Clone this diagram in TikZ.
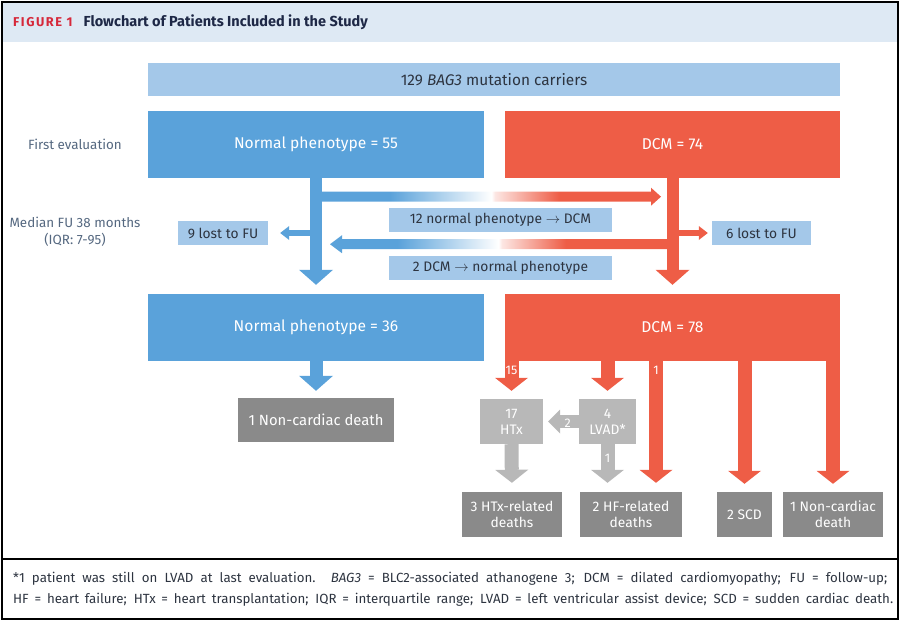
\documentclass[tikz,border=0pt]{standalone}
\usepackage{fontspec}
\setmainfont{Fira Sans}
\usepackage{tikz}
\usetikzlibrary{arrows.meta,positioning,calc}
\usepackage{xcolor}
\definecolor{jblue}{RGB}{90,162,218}
\definecolor{jlight}{RGB}{164,200,233}
\definecolor{jred}{RGB}{238,93,70}
\definecolor{jdark}{RGB}{138,138,138}
\definecolor{jgray}{RGB}{184,184,184}
\definecolor{jhead}{RGB}{222,233,244}
\definecolor{jnavy}{RGB}{30,40,70}
\definecolor{jtitle}{RGB}{214,40,58}
\definecolor{jside}{RGB}{85,104,128}
\definecolor{jtext}{RGB}{45,52,64}
\colorlet{jredpale}{jred!15}
\pgfdeclarehorizontalshading{convert}{100bp}{color(0bp)=(jblue); color(35bp)=(jblue); color(50bp)=(white); color(50.5bp)=(jredpale); color(60bp)=(jred); color(100bp)=(jred)}

\begin{document}
\begin{tikzpicture}[x=1pt,y=-1pt,
    box/.style={inner sep=0pt, align=center, font=\fontsize{13.8}{16}\selectfont},
    mainbox/.style={box, fill=#1, text=white, minimum height=67pt, font=\fontsize{15.6}{18}\selectfont},
    lightbox/.style={box, fill=jlight, text=jtext, minimum height=24pt},
    graybox/.style={box, fill=jgray, text=white, minimum height=45pt},
    darkbox/.style={box, fill=jdark, text=white, minimum height=45pt},
    sidelabel/.style={align=center, text=jside, font=\fontsize{13.4}{17}\selectfont},
    stemlabel/.style={text=white, inner sep=0pt, font=\fontsize{12.5}{14}\selectfont},
    bigarrow/.style={draw=#1, line width=12pt, -{Triangle[width=34pt,length=15pt,line width=0pt]}},
    droparrow/.style={draw=#1, line width=14pt, -{Triangle[width=33pt,length=13pt,line width=0pt]}},
    smallarrow/.style={draw=#1, line width=6pt, -{Triangle[width=14pt,length=9pt,line width=0pt]}}
  ]
\useasboundingbox (0,0) rectangle (900,622);

% frame and header
\fill[jhead] (3,3) rectangle (897,42);
\draw[line width=1.5pt] (2,2) rectangle (898,619);
\draw[line width=1.5pt] (2,559) -- (898,559);
\node[anchor=west, inner sep=0pt] (title) at (13,22)
  {{\color{jtitle}\fontsize{12.8}{15}\selectfont\bfseries\addfontfeature{LetterSpace=12}FIGURE 1}\hspace{11pt}{\color{jnavy}\fontsize{14.5}{17}\selectfont\bfseries Flowchart of Patients Included in the Study}};

% boxes
\node[box, fill=jlight, text=jtext, minimum width=692pt, minimum height=33pt, font=\fontsize{15.4}{18}\selectfont] (carriers) at (494,79.5) {129 \textit{BAG3} mutation carriers};
\node[mainbox=jblue, minimum width=336pt] (norm55) at (316,144.5) {Normal phenotype = 55};
\node[mainbox=jred, minimum width=335pt] (dcm74) at (672.5,144.5) {DCM = 74};
\node[mainbox=jblue, minimum width=336pt] (norm36) at (316,327.5) {Normal phenotype = 36};
\node[mainbox=jred, minimum width=335pt] (dcm78) at (672.5,327.5) {DCM = 78};

\node[sidelabel] (firsteval) at (75,144) {First evaluation};
\node[sidelabel] (medianfu) at (75,232) {Median FU 38 months\\(IQR: 7-95)};

\node[lightbox, minimum width=90pt] (lost9) at (223,233) {9 lost to FU};
\node[lightbox, minimum width=99pt] (lost6) at (761.5,233) {6 lost to FU};
\node[lightbox, minimum width=223pt] (toDCM) at (500.5,220) {12 normal phenotype $\rightarrow$ DCM};
\node[lightbox, minimum width=223pt] (toNormal) at (500.5,267.5) {2 DCM $\rightarrow$ normal phenotype};

\node[graybox, minimum width=63pt] (htx) at (511.5,421.5) {17\\HTx};
\node[graybox, minimum width=57pt] (lvad) at (607.5,421.5) {4\\LVAD*};
\node[darkbox, minimum width=156pt, minimum height=44pt, font=\fontsize{14.8}{17}\selectfont] (ncdA) at (316,420) {1 Non-cardiac death};
\node[darkbox, minimum width=100pt] (htxdeath) at (512,514.5) {3 HTx-related\\deaths};
\node[darkbox, minimum width=102pt] (hfdeath) at (631,514.5) {2 HF-related\\deaths};
\node[darkbox, minimum width=55pt] (scd) at (744.5,514.5) {2 SCD};
\node[darkbox, minimum width=100pt] (ncdB) at (833,514.5) {1 Non-cardiac\\death};

% follow-up arrows
\draw[smallarrow=jblue, shorten >=12pt] (norm55.south |- lost9.east) -- (lost9.east);
\draw[smallarrow=jred, shorten >=4pt] (dcm74.south |- lost6.west) -- (lost6.west);
\draw[bigarrow=jblue, shorten >=9pt] (norm55.south) -- (norm36.north);
\draw[bigarrow=jred, shorten >=9pt] (dcm74.south) -- (dcm78.north);

\coordinate (convA) at ($(norm55.south)+(6,18.5)$);
\coordinate (convB) at ($(dcm74.south)+(-11.5,18.5)$);
\shade[shading=convert] ($(convA)+(0,-5)$) -- ($(convB)+(-10,-5)$) -- ($(convB)+(-10,-9)$) -- (convB)
  -- ($(convB)+(-10,9)$) -- ($(convB)+(-10,5)$) -- ($(convA)+(0,5)$) -- cycle;
\coordinate (backA) at ($(dcm74.south)+(-5.5,66)$);
\coordinate (backB) at ($(norm55.south)+(14,66)$);
\shade[shading=convert] ($(backA)+(0,-5)$) -- ($(backB)+(12,-5)$) -- ($(backB)+(12,-9)$) -- (backB)
  -- ($(backB)+(12,9)$) -- ($(backB)+(12,5)$) -- ($(backA)+(0,5)$) -- cycle;

% outcomes
\draw[bigarrow=jblue, line width=13pt, shorten >=7pt] (norm36.south) -- (ncdA.north);
\draw[droparrow=jred, shorten >=8pt] (htx.north |- dcm78.south) -- (htx.north);
\draw[droparrow=jred, shorten >=8pt] (lvad.north |- dcm78.south) -- (lvad.north);
\coordinate (hfin) at ($(hfdeath.north)+(25,0)$);
\draw[droparrow=jred, shorten >=9pt] (hfin |- dcm78.south) -- (hfin);
\draw[droparrow=jred, shorten >=8pt] (scd.north |- dcm78.south) -- (scd.north);
\draw[droparrow=jred, shorten >=8pt] (ncdB.north |- dcm78.south) -- (ncdB.north);
\node[stemlabel] (n15) at ($(htx.north |- dcm78.south)+(0,9)$) {15};
\node[stemlabel] (n1a) at ($(hfin |- dcm78.south)+(0,9)$) {1};

\draw[droparrow=jgray, shorten >=9pt] (htx.south) -- (htxdeath.north);
\draw[droparrow=jgray, shorten >=9pt] (lvad.south) -- (lvad.south |- hfdeath.north);
\draw[draw=jgray, line width=13pt, -{Triangle[width=24pt,length=12pt,line width=0pt]}, shorten >=5pt] (lvad.west) -- (htx.east);
\node[stemlabel] (n2) at ($(lvad.west)+(-11,1.5)$) {2};
\node[stemlabel] (n1b) at ($(lvad.south)+(0,14)$) {1};

% footnote
\node[anchor=west, inner sep=0pt, text=jtext, font=\fontsize{13.3}{15}\selectfont] (noteA) at (13,579)
  {\makebox[874pt][s]{*1 patient was still on LVAD at last evaluation. \textit{BAG3} = BLC2-associated athanogene 3; DCM = dilated cardiomyopathy; FU = follow-up;}};
\node[anchor=west, inner sep=0pt, text=jtext, font=\fontsize{13.3}{15}\selectfont] (noteB) at (13,600)
  {\makebox[880pt][s]{HF = heart failure; HTx = heart transplantation; IQR = interquartile range; LVAD = left ventricular assist device; SCD = sudden cardiac death.}};
\end{tikzpicture}
\end{document}
